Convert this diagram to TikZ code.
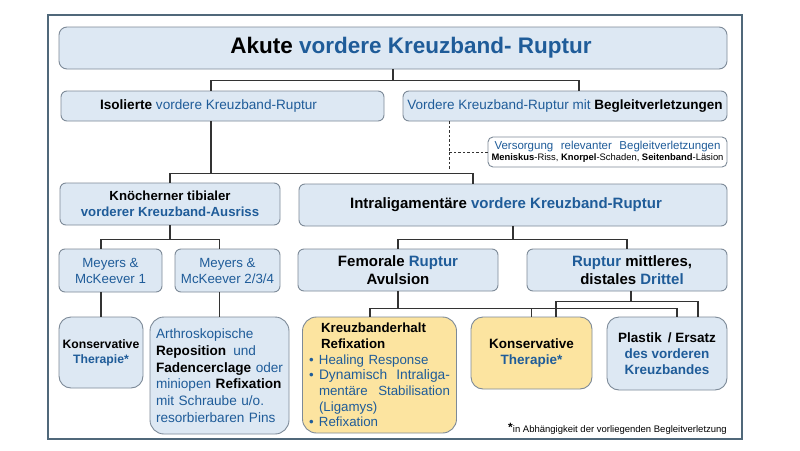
\documentclass[tikz,border=0pt]{standalone}
\usepackage{fontspec}
\setmainfont{Liberation Sans}
\definecolor{kb}{HTML}{1F5C99}
\definecolor{boxfill}{HTML}{DDE8F3}
\definecolor{boxline}{HTML}{7D8A98}
\definecolor{yfill}{HTML}{FCE4A0}
\definecolor{framec}{HTML}{50687A}
\definecolor{conn}{HTML}{333333}
\newcommand{\fsz}[2]{\fontsize{#1}{#2}\selectfont}
\begin{document}
\begin{tikzpicture}[x=1pt,y=-1pt,
  bx/.style={draw=boxline, line width=0.9pt, fill=boxfill, rounded corners=6pt, inner sep=0pt, align=center, text=black},
  yb/.style={bx, fill=yfill},
  cn/.style={draw=conn, line width=1.1pt},
  dsh/.style={draw=conn, line width=0.9pt, dash pattern=on 2.5pt off 2pt},
  ]
\useasboundingbox (0,0) rectangle (800,450);
\fill[white] (0,0) rectangle (800,450);
\draw[framec, line width=1.8pt] (48,15) rectangle (742,439);

% boxes
\node[bx, rounded corners=8pt, minimum width=668pt, minimum height=42pt, font=\fsz{22.5}{26}\bfseries] (title) at (393,48)
  {\hspace*{36pt}Akute \textcolor{kb}{vordere Kreuzband- Ruptur}};
\node[bx, minimum width=323pt, minimum height=30pt, font=\fsz{13.6}{16}] (iso) at (222.5,106)
  {\textbf{Isolierte} \textcolor{kb}{vordere Kreuzband-Ruptur}\hspace*{28pt}};
\node[bx, minimum width=324pt, minimum height=30pt, font=\fsz{13.5}{16}] (vmit) at (565,106)
  {\textcolor{kb}{Vordere Kreuzband-Ruptur mit} \textbf{Begleitverletzungen}};
\node[bx, fill=white, rounded corners=5pt, minimum width=239pt, minimum height=30pt] (vers) at (607.5,152)
  {{\fsz{11.5}{12.5}\color{kb}\makebox[226pt][s]{Versorgung relevanter Begleitverletzungen}}\\[-1pt]
   {\fsz{9.4}{11}\textbf{Meniskus}-Riss, \textbf{Knorpel}-Schaden, \textbf{Seitenband}-Läsion}};
\node[bx, minimum width=220pt, minimum height=42pt, font=\fsz{13.2}{15.6}\bfseries] (kn) at (170,204)
  {Knöcherner tibialer\\\textcolor{kb}{vorderer Kreuzband-Ausriss}};
\node[bx, minimum width=428pt, minimum height=42pt, font=\fsz{15}{17}\bfseries] (intra) at (513,205)
  {Intraligamentäre \textcolor{kb}{vordere Kreuzband-Ruptur}\hspace*{14pt}};
\node[bx, minimum width=103pt, minimum height=43pt, font=\fsz{13.3}{16}, text=kb] (m1) at (110.5,270.5)
  {Meyers \&\\McKeever 1};
\node[bx, minimum width=105pt, minimum height=43pt, font=\fsz{13.3}{16}, text=kb] (m2) at (227.5,270.5)
  {Meyers \&\\McKeever 2/3/4};
\node[bx, minimum width=200pt, minimum height=42pt, font=\fsz{15}{17.6}\bfseries] (fem) at (398,270)
  {Femorale \textcolor{kb}{Ruptur}\\Avulsion};
\node[bx, minimum width=200pt, minimum height=42pt, font=\fsz{15}{17.6}\bfseries] (rup) at (627,270)
  {\hspace*{10pt}\textcolor{kb}{Ruptur} mittleres,\\\hspace*{10pt}distales \textcolor{kb}{Drittel}};
\node[bx, rounded corners=12pt, minimum width=84pt, minimum height=71pt, font=\fsz{12.2}{15}\bfseries] (kon1) at (101,352.5)
  {Konservative\\\textcolor{kb}{Therapie*}};
\node[bx, rounded corners=14pt, minimum width=139pt, minimum height=117pt, text width=127pt, align=left, font=\fsz{13.6}{16.7}, text=kb] (arth) at (219.5,375.5)
  {Arthroskopische\\
   \textcolor{black}{\textbf{Reposition}}\hspace{7pt}und\\
   \textcolor{black}{\textbf{Fadencerclage}}\hfill oder\\
   miniopen \textcolor{black}{\textbf{Refixation}}\\
   mit Schraube u/o.\\
   resorbierbaren Pins};
\node[yb, rounded corners=14pt, minimum width=154pt, minimum height=116pt, text width=141pt, align=left, font=\fsz{13.3}{15.7}, text=kb] (kr) at (379.5,375)
  {\hspace*{12pt}\textcolor{black}{\textbf{Kreuzbanderhalt}}\\
   \hspace*{12pt}\textcolor{black}{\textbf{Refixation}}\\
   \makebox[10pt][l]{•}Healing Response\\
   \makebox[10pt][l]{•}{\fsz{13.8}{15.7}Dynamisch\hfill Intraliga-}\\
   \hspace*{10pt}mentäre\hfill Stabilisation\\
   \hspace*{10pt}(Ligamys)\\
   \makebox[10pt][l]{•}Refixation};
\node[yb, rounded corners=12pt, minimum width=121pt, minimum height=72pt, font=\fsz{13.5}{15.5}\bfseries] (kon2) at (531.5,353)
  {Konservative\\\textcolor{kb}{Therapie*}};
\node[bx, rounded corners=12pt, minimum width=120pt, minimum height=73pt, font=\fsz{13.5}{16}\bfseries] (pl) at (667,353.5)
  {Plastik \,/ Ersatz\\\textcolor{kb}{des vorderen}\\\textcolor{kb}{Kreuzbandes}};
\node[anchor=base east, inner sep=0pt, font=\fsz{9.5}{11}] (fn) at (727,432)
  {\raisebox{1pt}{\fsz{12}{12}\textbf{*}}in Abhängigkeit der vorliegenden Begleitverletzung};

% connectors
\draw[cn] (title.south) -- ++(0,11) coordinate (j1);
\draw[cn] ([xshift=-11.5pt]iso.north) |- (j1) -| ([xshift=14pt]vmit.north);
\draw[dsh] ([xshift=-116pt]vmit.south) -- ++(0,49) coordinate (d1);
\draw[dsh] (vers.west) -- (vers.west -| d1);
\draw[cn] ([xshift=-11.5pt]iso.south) -- ++(0,52) coordinate (j2);
\draw[cn] (kn.north) |- (j2) -| ([xshift=-40pt]intra.north);
\draw[cn] (kn.south) -- ++(0,14) coordinate (j3);
\draw[cn] ([xshift=-9.5pt]m1.north) |- (j3) -| ([xshift=-8pt]m2.north);
\draw[cn] (kon1.north) -- (kon1.north |- m1.south);
\draw[cn] (arth.north) -- (arth.north |- m2.south);
\draw[cn] (intra.south) -- ++(0,13) coordinate (j4);
\draw[cn] (fem.north) |- (j4) -| (rup.north);
\draw[cn] (fem.south) -- ++(0,17) coordinate (j5);
\draw[cn] ([xshift=-9.5pt]kr.north) |- (j5) -| ([xshift=10pt]pl.north);
\draw[cn] (kon2.north) -- (kon2.north |- j5);
\draw[cn] ([xshift=4pt]rup.south) -- ++(0,10) coordinate (j6);
\draw[cn] ([xshift=24.5pt]kon2.north) |- (j6) -| ([xshift=31pt]pl.north);
\end{tikzpicture}
\end{document}
